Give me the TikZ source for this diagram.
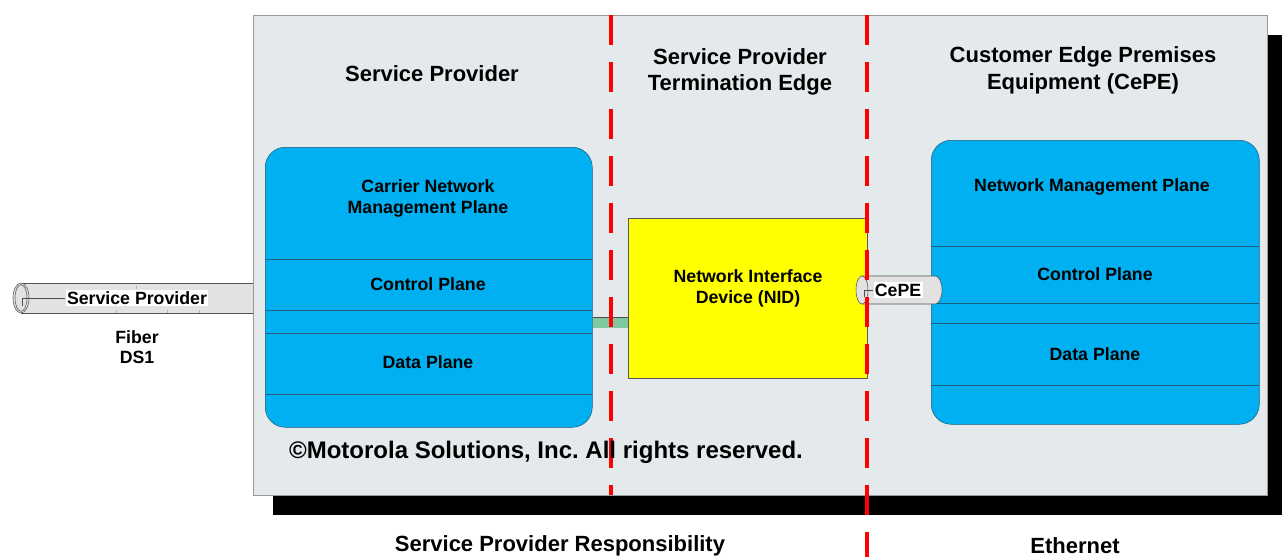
\documentclass[tikz,border=0pt]{standalone}
\usepackage{fontspec}
\setmainfont{Liberation Sans}
\usepackage{tikz}
\usetikzlibrary{positioning, calc}
\frenchspacing
\definecolor{cPanel}{RGB}{228,233,236}
\definecolor{cPanelEdge}{RGB}{150,155,158}
\definecolor{cPlane}{RGB}{0,176,240}
\definecolor{cPlaneEdge}{RGB}{30,95,125}
\definecolor{cNid}{RGB}{255,255,0}
\definecolor{cLink}{RGB}{128,200,160}
\definecolor{cPipe}{RGB}{226,226,226}
\definecolor{cDivider}{RGB}{255,0,0}
\tikzset{
	title/.style    ={font=\fontsize{16.5}{20}\selectfont\bfseries, align=center},
	panel/.style    ={rectangle, draw=cPanelEdge, fill=cPanel, anchor=north west, inner sep=0pt},
	plane/.style    ={rectangle, rounded corners=15pt, draw=cPlaneEdge, fill=cPlane, anchor=north west, inner sep=0pt},
	planetxt/.style ={font=\fontsize{13.3}{15.75}\selectfont\bfseries, align=center},
	rowline/.style  ={cPlaneEdge, thin},
	nidbox/.style   ={rectangle, draw=gray!70!black, fill=cNid, anchor=north west, inner sep=0pt},
	link/.style     ={draw=gray!60!black, double=cLink, double distance=7.5pt},
	pipe/.style     ={draw=gray!65!black, fill=cPipe, thin},
	pipetxt/.style  ={fill=white, inner sep=1pt, font=\fontsize{13.3}{16}\selectfont\bfseries},
	divider/.style  ={cDivider, line width=3pt, dash pattern=on 22.5pt off 12.75pt},
}

\begin{document}
\begin{tikzpicture}[x=0.75pt, y=-0.75pt]
	\useasboundingbox (0,0) rectangle (1282,557);
	% fiber pipe from the provider
	\draw[pipe] (21,283) rectangle (253,313);
	\draw[pipe] (21,298) ellipse [x radius=6pt, y radius=11.25pt];
	\draw[gray!65!black, thin] (21,298) ellipse [x radius=4.5pt, y radius=10pt];
	\foreach \x/\y in {136/286, 116/310, 167/310, 199/310}
		\draw[gray!60, thin] (\x,\y) -- (\x,\y+3);
	\node[pipetxt] (fibertag) at (137,298) {Service Provider};
	\draw[gray!60!black, thin] (22,306) -- (22,298) -- (fibertag.west);
	\node[planetxt, font=\fontsize{13.3}{15}\selectfont\bfseries] (fiberlbl) at (137,347) {Fiber\\DS1};
	% shadow and panel
	\fill[black] (273,35) rectangle (1282,515);
	\node[panel, minimum width=760.5pt, minimum height=360pt] (panel) at (253,15) {};
	% titles
	\node[title] (sptitle) at (432,74) {Service Provider};
	\node[title] (tetitle) at (740,72) {Service Provider\\Termination Edge};
	\node[title] (cetitle) at (1083,70) {Customer Edge Premises\\Equipment (CePE)};
	% provider planes
	\node[plane, minimum width=245.25pt, minimum height=210pt] (spbox) at (265,147) {};
	\foreach \y in {259,310,333,394}
		\draw[rowline] (265,\y) -- (592,\y);
	\node[planetxt] (spmgmt) at (428,198) {Carrier Network\\Management Plane};
	\node[planetxt] (spctrl) at (428,284) {Control Plane};
	\node[planetxt] (spdata) at (428,362) {Data Plane};
	% customer planes
	\node[plane, minimum width=246pt, minimum height=213pt] (cebox) at (931,140) {};
	\foreach \y in {246,303,323,385}
		\draw[rowline] (931,\y) -- (1259,\y);
	\node[planetxt] (cemgmt) at (1092,187) {Network Management Plane};
	\node[planetxt] (cectrl) at (1095,274) {Control Plane};
	\node[planetxt] (cedata) at (1095,354) {Data Plane};
	% NID
	\node[nidbox, minimum width=179.25pt, minimum height=120pt] (nid) at (628,218) {};
	\node[planetxt] (nidtxt) at (748,288) {Network Interface\\Device (NID)};
	\coordinate (linky) at (0,322.5);
	\draw[link] (spbox.east |- linky) -- (nid.west |- linky);
	% CePE pipe
	\draw[pipe] (862,276) -- (935,276) arc[start angle=90, end angle=-90, x radius=5.25pt, y radius=10.5pt] -- (862,304) -- cycle;
	\draw[pipe] (862,290) ellipse [x radius=4.5pt, y radius=10.5pt];
	\node[pipetxt] (cepetag) at (898,290) {CePE};
	\draw[gray!60!black, thin] (864,297) -- (864,290) -- (cepetag.west);
	% responsibility dividers
	\draw[divider] (611,15) -- (611,495);
	\draw[divider] (867,15) -- (867,557);
	\node[font=\fontsize{18}{20}\selectfont\bfseries] (copyr) at (546,452) {©Motorola Solutions, Inc. All rights reserved.};
	\node[title] (resplbl) at (560,546) {Service Provider Responsibility};
	\node[title] (ethlbl) at (1075,546) {Ethernet};
\end{tikzpicture}
\end{document}
